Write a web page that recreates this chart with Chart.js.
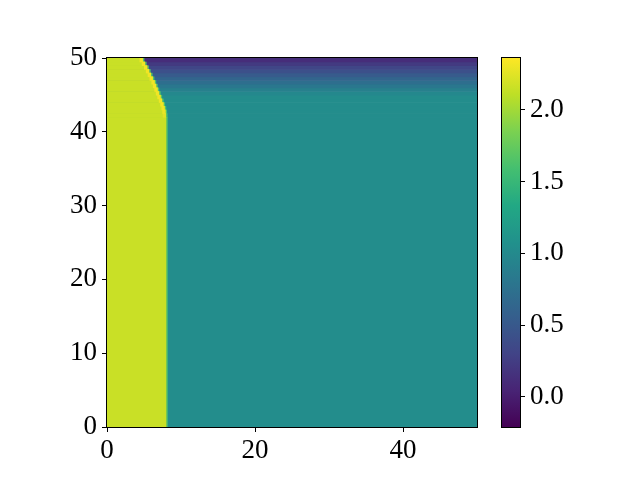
<!DOCTYPE html>
<html>
<head>
<meta charset="utf-8">
<script src="https://cdn.jsdelivr.net/npm/chart.js@4/dist/chart.umd.min.js"></script>
<style>
  html, body { margin: 0; padding: 0; background: #fff; }
  #wrap { position: relative; width: 640px; height: 480px; }
  #wrap canvas { position: absolute; left: 0; top: 0; }
</style>
</head>
<body>
<div id="wrap">
  <canvas id="field" width="640" height="480"></canvas>
  <canvas id="cbar" width="640" height="480"></canvas>
</div>
<script>
// tick labels
const X_TICKS = [0, 20, 40];
const Y_TICKS = [0, 10, 20, 30, 40, 50];
const CBAR_TICKS = [0, 0.5, 1, 1.5, 2];
const CBAR_MIN = -0.21;
const CBAR_MAX = 2.36;

// field, one row per entry (bottom edge of the row in y)
const ROW_Y      = [0, 42, 42.5, 43, 43.5, 44, 44.5, 45, 45.5, 46, 46.5, 47, 47.5, 48, 48.5, 49, 49.5];
const BOUNDARY_X = [8.0, 7.98, 7.92, 7.8, 7.65, 7.45, 7.25, 7.05, 6.85, 6.65, 6.45, 6.2, 5.95, 5.7, 5.45, 5.15, 4.85];
const RIGHT_VAL  = [1.03, 1.03, 1.03, 1.03, 1.03, 1.03, 1.03, 0.98, 0.9, 0.81, 0.72, 0.62, 0.52, 0.42, 0.32, 0.22, 0.12];
const RIDGE_VAL  = [2.15, 2.24, 2.28, 2.3, 2.31, 2.31, 2.31, 2.31, 2.31, 2.31, 2.31, 2.31, 2.31, 2.31, 2.31, 2.31, 2.31];
const LEFT_VAL = 2.15;
const EDGE_VAL = 1.65;

const RIDGE_W = 0.45;   // data units
const EDGE_W = 0.2;
const FONT = { family: "'Liberation Serif', 'DejaVu Serif', serif", size: 27 };

const VIRIDIS = ['#440154', '#482475', '#414487', '#355f8d', '#2a788e', '#21918c',
                 '#22a884', '#44bf70', '#7ad151', '#bddf26', '#fde725'];

function hexRgb(h) {
    return [parseInt(h.slice(1, 3), 16), parseInt(h.slice(3, 5), 16), parseInt(h.slice(5, 7), 16)];
}

function viridis(v) {
    let t = (v - CBAR_MIN) / (CBAR_MAX - CBAR_MIN);
    t = Math.max(0, Math.min(1, t)) * (VIRIDIS.length - 1);
    const i = Math.min(Math.floor(t), VIRIDIS.length - 2);
    const f = t - i;
    const a = hexRgb(VIRIDIS[i]), b = hexRgb(VIRIDIS[i + 1]);
    const c = a.map((ai, k) => Math.round(ai + (b[k] - ai) * f));
    return 'rgb(' + c.join(',') + ')';
}

const fieldPlugin = {
    id: 'field',
    beforeDatasetsDraw(chart) {
        const { ctx, chartArea: area, scales: { x, y } } = chart;
        ctx.save();
        ctx.beginPath();
        ctx.rect(area.left, area.top, area.right - area.left, area.bottom - area.top);
        ctx.clip();
        const rowBox = i => {
            const y1 = i + 1 < ROW_Y.length ? ROW_Y[i + 1] : 50;
            const top = y.getPixelForValue(y1);
            return { top, h: y.getPixelForValue(ROW_Y[i]) - top + 0.6 };
        };
        const band = (i, xa, xb, v) => {
            const { top, h } = rowBox(i);
            const pa = x.getPixelForValue(xa), pb = x.getPixelForValue(xb);
            ctx.fillStyle = viridis(v);
            ctx.fillRect(pa, top, pb - pa, h);
        };
        // one pass per layer so neighbouring rows of the same layer hide their seams
        ROW_Y.forEach((_, i) => band(i, 0, 50, RIGHT_VAL[i]));
        ROW_Y.forEach((_, i) => band(i, BOUNDARY_X[i], BOUNDARY_X[i] + EDGE_W, EDGE_VAL));
        ROW_Y.forEach((_, i) => band(i, 0, BOUNDARY_X[i], LEFT_VAL));
        ROW_Y.forEach((_, i) => band(i, BOUNDARY_X[i] - RIDGE_W, BOUNDARY_X[i], RIDGE_VAL[i]));
        ctx.restore();
    },
    afterDraw(chart) {
        const { ctx, chartArea: a } = chart;
        ctx.save();
        ctx.strokeStyle = '#000';
        ctx.lineWidth = 1;
        ctx.strokeRect(a.left - 0.5, a.top - 0.5, a.right - a.left + 1, a.bottom - a.top + 1);
        ctx.restore();
    }
};

const colorbarPlugin = {
    id: 'colorbar',
    beforeDatasetsDraw(chart) {
        const { ctx, chartArea: a, scales: { y } } = chart;
        const y0 = y.getPixelForValue(CBAR_MIN), y1 = y.getPixelForValue(CBAR_MAX);
        const g = ctx.createLinearGradient(0, y0, 0, y1);
        VIRIDIS.forEach((c, i) => g.addColorStop(i / (VIRIDIS.length - 1), c));
        ctx.save();
        ctx.fillStyle = g;
        ctx.fillRect(a.left, a.top, a.right - a.left, a.bottom - a.top);
        ctx.strokeStyle = '#000';
        ctx.lineWidth = 1;
        ctx.strokeRect(a.left - 0.5, a.top - 0.5, a.right - a.left + 1, a.bottom - a.top + 1);
        ctx.restore();
    }
};

function axisTicks(list) {
    return scale => { scale.ticks = list.map(v => ({ value: v })); };
}

const tickGrid = { drawOnChartArea: false, drawTicks: true, tickLength: 5, tickColor: '#000', tickWidth: 1 };

new Chart(document.getElementById('field'), {
    type: 'scatter',
    data: { datasets: [{ data: [] }] },
    options: {
        responsive: false,
        animation: false,
        layout: { padding: { left: 0, top: 58, right: 163, bottom: 0 } },
        plugins: { legend: { display: false }, tooltip: { enabled: false } },
        scales: {
            x: {
                type: 'linear', min: 0, max: 50,
                afterBuildTicks: axisTicks(X_TICKS),
                afterFit: s => { s.height = 53; },
                grid: tickGrid,
                border: { display: false },
                ticks: { color: '#000', font: FONT, padding: 3, maxRotation: 0, autoSkip: false,
                         callback: v => String(v) }
            },
            y: {
                type: 'linear', min: 0, max: 50,
                afterBuildTicks: axisTicks(Y_TICKS),
                afterFit: s => { s.width = 107; },
                grid: tickGrid,
                border: { display: false },
                ticks: { color: '#000', font: FONT, padding: 5, autoSkip: false,
                         callback: v => String(v) }
            }
        }
    },
    plugins: [fieldPlugin]
});

new Chart(document.getElementById('cbar'), {
    type: 'scatter',
    data: { datasets: [{ data: [] }] },
    options: {
        responsive: false,
        animation: false,
        layout: { padding: { left: 502, top: 58, right: 0, bottom: 53 } },
        plugins: { legend: { display: false }, tooltip: { enabled: false } },
        scales: {
            x: { type: 'linear', display: false, min: 0, max: 1 },
            y: {
                type: 'linear', position: 'right', min: CBAR_MIN, max: CBAR_MAX,
                afterBuildTicks: axisTicks(CBAR_TICKS),
                afterFit: s => { s.width = 120; },
                grid: tickGrid,
                border: { display: false },
                ticks: { color: '#000', font: FONT, padding: 5, autoSkip: false,
                         callback: v => v.toFixed(1) }
            }
        }
    },
    plugins: [colorbarPlugin]
});
</script>
</body>
</html>
